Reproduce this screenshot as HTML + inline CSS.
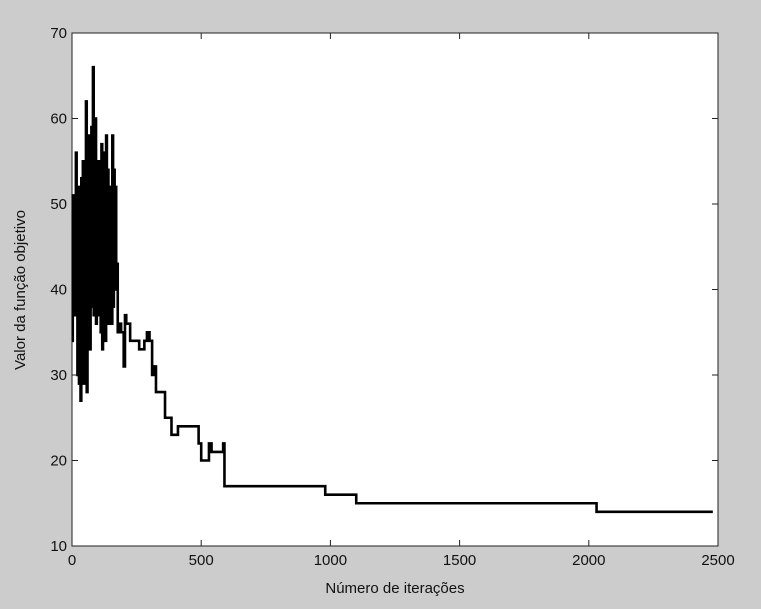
<!DOCTYPE html>
<html><head><meta charset="utf-8"><style>
html,body{margin:0;padding:0;background:#cccccc;}
svg{display:block;font-family:"Liberation Sans",sans-serif;}
</style></head><body>
<svg id="chart" width="761" height="609" viewBox="0 0 761 609">
<rect x="72" y="33" width="646" height="513" fill="#fff" stroke="#222" stroke-width="1"/>
<g id="ticks"></g>
<path id="series" fill="none" stroke="#000" stroke-width="2.6" stroke-linejoin="miter"/>
<text x="395" y="593" font-size="15" text-anchor="middle" fill="#111">Número de iterações</text>
<text transform="translate(25,290) rotate(-90)" font-size="15" text-anchor="middle" fill="#111">Valor da função objetivo</text>
</svg>
<script>
const xTicks=[0,500,1000,1500,2000,2500];
const yTicks=[10,20,30,40,50,60,70];
const iters=[0,3,6,9,12,15,18,21,24,27,30,33,36,39,42,45,48,51,54,57,60,63,66,69,72,75,78,81,84,87,90,93,96,99,102,105,108,111,114,117,120,123,126,129,132,135,138,141,144,147,150,153,156,159,162,165,168,171,174,177,180,
190,200,205,210,225,240,260,280,290,300,310,318,325,330,360,365,385,410,490,500,530,540,585,590,980,1100,2030,2480];
const values=[34,51,38,49,37,56,40,30,52,29,44,27,53,31,55,29,48,35,62,28,50,36,58,33,46,59,38,66,37,45,60,36,52,41,55,37,48,35,57,33,56,38,51,34,58,40,54,36,52,43,50,36,58,38,54,40,52,43,43,35,36,
35,31,37,36,34,34,33,34,35,34,30,31,28,28,25,25,23,24,22,20,22,21,22,17,16,15,14,14];
const L=72,R=718,T=33,B=546;
const xs=v=>L+(v-0)/(2500-0)*(R-L);
const ys=v=>B-(v-10)/(70-10)*(B-T);
const ns="http://www.w3.org/2000/svg";
const g=document.getElementById('ticks');
xTicks.forEach(t=>{
  const l=document.createElementNS(ns,'path');
  
  
  l.setAttribute('d',`M${xs(t)},${B}v-6M${xs(t)},${T}v6`);l.setAttribute('stroke','#222');g.appendChild(l);
  const tx=document.createElementNS(ns,'text');
  
  
  tx.setAttribute('x',xs(t));tx.setAttribute('y',B+19);tx.setAttribute('font-size','15');tx.setAttribute('text-anchor','middle');tx.setAttribute('fill','#111');tx.textContent=t;g.appendChild(tx);
});
yTicks.forEach(t=>{
  const l=document.createElementNS(ns,'path');
  
  
  l.setAttribute('d',`M${L},${ys(t)}h6M${R},${ys(t)}h-6`);l.setAttribute('stroke','#222');g.appendChild(l);
  const tx=document.createElementNS(ns,'text');
  
  
  tx.setAttribute('x',L-5);tx.setAttribute('y',ys(t)+5);tx.setAttribute('font-size','15');tx.setAttribute('text-anchor','end');tx.setAttribute('fill','#111');tx.textContent=t;g.appendChild(tx);
});
let d=`M${xs(iters[0])},${ys(values[0])}`;
for(let i=1;i<iters.length;i++){d+=`H${xs(iters[i])}V${ys(values[i])}`;}
document.getElementById('series').setAttribute('d',d);
</script>
</body></html>
